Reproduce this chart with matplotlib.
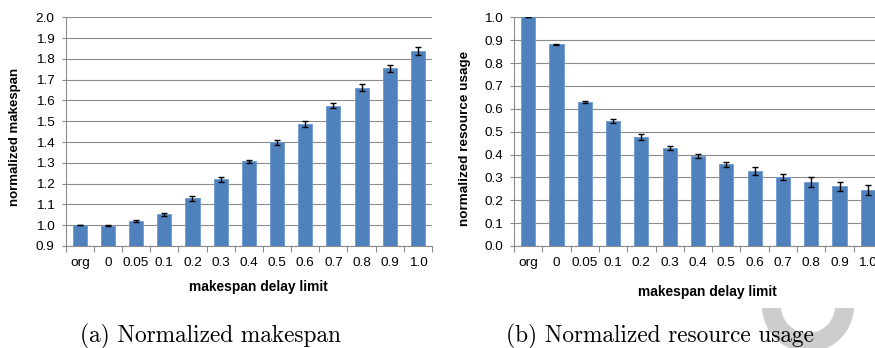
import matplotlib
matplotlib.use("Agg")
import matplotlib.pyplot as plt
import numpy as np
from matplotlib.patches import Wedge, Rectangle
from matplotlib.transforms import IdentityTransform

categories = ["org", "0", "0.05", "0.1", "0.2", "0.3", "0.4", "0.5", "0.6", "0.7", "0.8", "0.9", "1.0"]
makespan = [1.0, 0.998, 1.02, 1.052, 1.13, 1.22, 1.307, 1.398, 1.487, 1.575, 1.662, 1.755, 1.837]
makespan_err = [0.001, 0.004, 0.004, 0.009, 0.012, 0.01, 0.008, 0.01, 0.014, 0.012, 0.017, 0.016, 0.019]
resource = [1.0, 0.882, 0.63, 0.545, 0.477, 0.43, 0.393, 0.357, 0.328, 0.302, 0.28, 0.262, 0.246]
resource_err = [0.0, 0.003, 0.003, 0.009, 0.012, 0.009, 0.009, 0.012, 0.016, 0.015, 0.02, 0.02, 0.022]

BAR = "#4F81BD"
GRID = "#8C8C8C"
SANS = ["Liberation Sans", "DejaVu Sans"]
W, H = 875, 348

fig = plt.figure(figsize=(8.75, 3.48), dpi=100)

def fx(px):
    return px / W

def fy(py):
    return 1 - py / H

def panel(left_px, right_px, vals, errs, ylim, yticks):
    rect = [fx(left_px), fy(246), (right_px - left_px) / W, (246 - 17.3) / H]
    ax = fig.add_axes(rect)
    x = np.arange(len(categories))
    ax.bar(x, vals, width=0.5, color=BAR, edgecolor="#6F9AD0", linewidth=0.6, zorder=3)
    ax.errorbar(x, vals, yerr=errs, fmt="none", ecolor="black", elinewidth=1.0,
                capsize=2.2, capthick=1.0, zorder=4)
    ax.set_xlim(-0.5, len(categories) - 0.5)
    ax.set_ylim(*ylim)
    ax.set_yticks(yticks)
    ax.set_yticklabels([f"{t:.1f}" for t in yticks], fontfamily=SANS, fontsize=9.7)
    ax.set_xticks(x)
    ax.set_xticklabels(categories, fontfamily=SANS, fontsize=9.7)
    ax.set_xticks(np.arange(-0.5, len(categories)), minor=True)
    ax.tick_params(axis="x", which="major", length=0, pad=8)
    ax.tick_params(axis="x", which="minor", length=4, color=GRID, width=0.8)
    ax.tick_params(axis="y", length=3, color=GRID, width=0.8, pad=5)
    ax.yaxis.grid(True, color=GRID, linewidth=0.8, zorder=0)
    ax.set_axisbelow(True)
    for s in ["top", "right"]:
        ax.spines[s].set_visible(False)
    for s in ["left", "bottom"]:
        ax.spines[s].set_color(GRID)
        ax.spines[s].set_linewidth(0.8)
    return ax

ax1 = panel(65.7, 432, makespan, makespan_err, (0.9, 2.0),
            np.round(np.arange(0.9, 2.01, 0.1), 1))
ax2 = panel(514, 882, resource, resource_err, (0.0, 1.0),
            np.round(np.arange(0.0, 1.01, 0.1), 1))

lab = dict(fontfamily=SANS, fontweight="bold", ha="center", va="center")
fig.text(fx(15), fy(137), "normalized makespan", rotation=90, fontsize=9.5, **lab)
fig.text(fx(465), fy(138), "normalized resource usage", rotation=90, fontsize=9.7, **lab)
fig.text(fx(258), fy(287), "makespan delay limit", fontsize=9.9, **lab)
fig.text(fx(707), fy(292), "makespan delay limit", fontsize=9.9, **lab)

cap = dict(fontfamily="cmr10", fontsize=16.8, ha="center", va="baseline", zorder=5)
fig.text(fx(210), fy(342), "(a) Normalized makespan", **cap)
fig.text(fx(660), fy(342), "(b) Normalized resource usage", **cap)

ring = Wedge((808, H - 306), 46, 0, 360, width=19, transform=IdentityTransform(),
             facecolor="#CDCDCD", edgecolor="none", zorder=0)
clip = Rectangle((0, 0), W, H - 308, transform=IdentityTransform())
ring.set_clip_path(clip)
fig.add_artist(ring)

fig.savefig("out.png", dpi=100)
